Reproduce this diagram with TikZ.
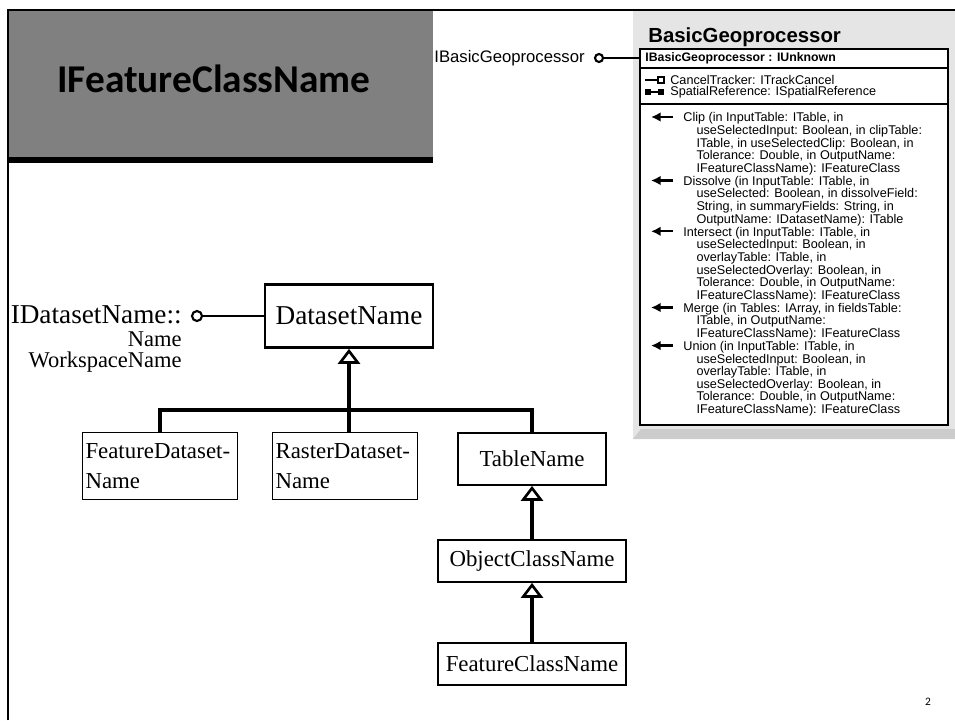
\documentclass[tikz,border=0pt]{standalone}
\usepackage{fontspec}
\setmainfont{Liberation Serif}
\setsansfont{Liberation Sans}
\newfontfamily\slidefont{Carlito}
\usetikzlibrary{arrows.meta,positioning}

\tikzset{
  cls/.style={draw, line width=1pt, inner sep=0pt, font=\fontsize{13}{17}\selectfont},
  inh/.style={line width=2pt, -{Triangle[open, length=8.5pt, width=12.5pt, line width=1.5pt]}},
  tree/.style={line width=2pt},
  lolli/.style={circle, draw, line width=1.2pt, inner sep=0pt, fill=white},
  prop/.style={anchor=west, inner sep=0pt, font=\sffamily\fontsize{7.2}{7.2}\selectfont},
  meth/.style={anchor=base west, align=left, inner sep=0pt, font=\sffamily\fontsize{7.2}{7.2}\selectfont},
  marrow/.style={line width=1.3pt, -{Latex[length=5.5pt, width=5.5pt]}},
}

\begin{document}
\begin{tikzpicture}[x=0.02cm, y=-0.02cm]
    \useasboundingbox (0,0) rectangle (955,720);
    %% slide title
    \fill[black!50] (8,10) rectangle (433,160);
    \draw[line width=3pt] (8,160) -- (433,160);
    \node[font=\slidefont\bfseries\fontsize{22.4}{26}\selectfont] (title) at (214,79) {IFeatureClassName};
    %% the geoprocessor panel
    \fill[black!10] (633,10) rectangle (955,439);
    \fill[black!20] (633,439) -- (641,429) -- (955,429) -- (955,439) -- cycle;
    \draw[line width=1.7pt] (8,720) -- (8,10) -- (955,10);
    \node[anchor=base west, inner sep=0pt, font=\sffamily\bfseries\fontsize{11.6}{14}\selectfont] (bgptitle) at (648,42) {BasicGeoprocessor};
    \node[draw, line width=1.1pt, fill=white, anchor=north west, inner sep=0pt, minimum width=6.16cm, minimum height=7.52cm] (bgp) at (639,48) {};
    \node[anchor=west, inner sep=0pt, font=\sffamily\bfseries\fontsize{7}{8}\selectfont] (hdr) at (645,58) {IBasicGeoprocessor : IUnknown};
    \draw[line width=0.8pt] (639,68) -- (947,68);
    \draw[line width=0.8pt] (639,104) -- (947,104);
    \node[anchor=west, inner sep=0pt, font=\sffamily\fontsize{9.5}{11}\selectfont] (ibgp) at (434,58) {IBasicGeoprocessor};
    \node[lolli, minimum size=0.16cm] (lbgp) at (599,58) {};
    \draw[line width=1.5pt] (lbgp) -- (lbgp -| bgp.west);
    %% properties
    \draw[line width=1.2pt] (645,80) -- (658,80);
    \draw[line width=1.2pt, fill=white] (658,77) rectangle (664,83);
    \draw[line width=1.2pt] (651,92) -- (658,92);
    \fill (645,89) rectangle (651,95);
    \fill (658,89) rectangle (664,95);
    \node[prop] (ct) at (670,80) {CancelTracker: ITrackCancel};
    \node[prop] (sr) at (670,92) {SpatialReference: ISpatialReference};
    %% methods (base anchor sits on the last line)
    \draw[marrow] (673,117) -- (651,117);
    \node[meth] (clip) at (683,172.3) {Clip (in InputTable: ITable, in\\
        \hspace*{7.5pt}useSelectedInput: Boolean, in clipTable:\\
        \hspace*{7.5pt}ITable, in useSelectedClip: Boolean, in\\
        \hspace*{7.5pt}Tolerance: Double, in OutputName:\\
        \hspace*{7.5pt}IFeatureClassName): IFeatureClass};
    \draw[marrow] (673,180.5) -- (651,180.5);
    \node[meth] (dissolve) at (683,223.1) {Dissolve (in InputTable: ITable, in\\
        \hspace*{7.5pt}useSelected: Boolean, in dissolveField:\\
        \hspace*{7.5pt}String, in summaryFields: String, in\\
        \hspace*{7.5pt}OutputName: IDatasetName): ITable};
    \draw[marrow] (673,231.3) -- (651,231.3);
    \node[meth] (intersect) at (683,299.3) {Intersect (in InputTable: ITable, in\\
        \hspace*{7.5pt}useSelectedInput: Boolean, in\\
        \hspace*{7.5pt}overlayTable: ITable, in\\
        \hspace*{7.5pt}useSelectedOverlay: Boolean, in\\
        \hspace*{7.5pt}Tolerance: Double, in OutputName:\\
        \hspace*{7.5pt}IFeatureClassName): IFeatureClass};
    \draw[marrow] (673,307.5) -- (651,307.5);
    \node[meth] (merge) at (683,337.4) {Merge (in Tables: IArray, in fieldsTable:\\
        \hspace*{7.5pt}ITable, in OutputName:\\
        \hspace*{7.5pt}IFeatureClassName): IFeatureClass};
    \draw[marrow] (673,345.6) -- (651,345.6);
    \node[meth] (union) at (683,413.6) {Union (in InputTable: ITable, in\\
        \hspace*{7.5pt}useSelectedInput: Boolean, in\\
        \hspace*{7.5pt}overlayTable: ITable, in\\
        \hspace*{7.5pt}useSelectedOverlay: Boolean, in\\
        \hspace*{7.5pt}Tolerance: Double, in OutputName:\\
        \hspace*{7.5pt}IFeatureClassName): IFeatureClass};
    %% name classes
    \node[cls, line width=1.5pt, minimum width=3.36cm, minimum height=1.26cm, font=\fontsize{15.5}{18}\selectfont] (dsn) at (349,316) {DatasetName};
    \node[cls, minimum width=3.1cm, minimum height=1.34cm, inner xsep=0.06cm, text width=2.98cm, align=left] (fdn) at (160,466) {FeatureDataset-\\Name};
    \node[cls, minimum width=2.9cm, minimum height=1.34cm, inner xsep=0.06cm, text width=2.78cm, align=left] (rdn) at (345,466) {RasterDataset-\\Name};
    \node[cls, minimum width=2.96cm, minimum height=1.04cm] (tn) at (532,459) {TableName};
    \node[cls, minimum width=3.76cm, minimum height=0.84cm] (ocn) at (532,561) {ObjectClassName};
    \node[cls, minimum width=3.76cm, minimum height=0.84cm] (fcn) at (532,664) {FeatureClassName};
    \node[anchor=east, inner sep=0pt, font=\fontsize{15.5}{18}\selectfont] (idn) at (182,315) {IDatasetName::};
    \node[anchor=north east, align=right, inner sep=0pt, font=\fontsize{12.8}{12.4}\selectfont] (idnprops) at (182,331) {Name\\WorkspaceName};
    \node[lolli, minimum size=0.2cm] (ldn) at (197,316) {};
    \draw[line width=1.5pt] (ldn) -- (dsn);
    \coordinate (fork) at (349,410);
    \draw[tree] (fdn.north) |- (fork) -| (tn.north);
    \draw[tree] (dsn.south |- rdn.north) -- (fork);
    \draw[inh] (fork) -- (dsn.south);
    \draw[inh] (ocn.north) -- (tn.south);
    \draw[inh] (fcn.north) -- (ocn.south);
    \node[font=\slidefont\fontsize{6.5}{8}\selectfont] (pagenum) at (928,702) {2};
\end{tikzpicture}
\end{document}
